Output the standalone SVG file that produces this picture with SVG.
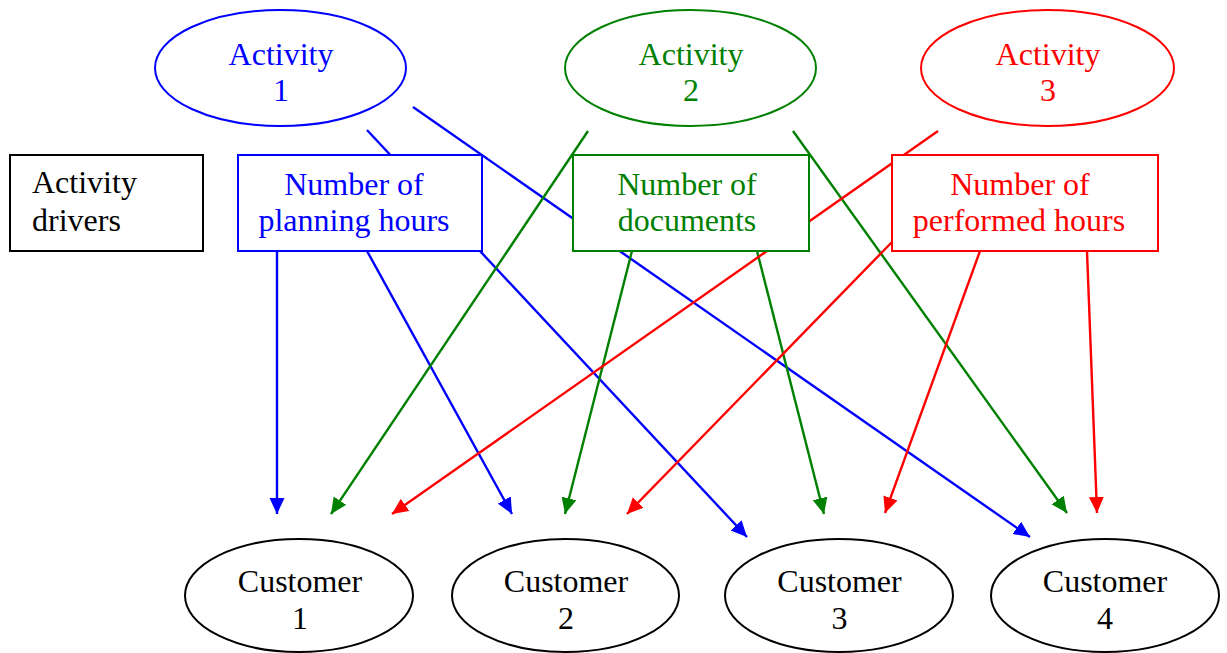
<svg xmlns="http://www.w3.org/2000/svg" width="1227" height="653" viewBox="0 0 1227 653">
  <style>
    text { font-family: "Liberation Serif", "Times New Roman", serif; font-size: 32px; }
    .mid { text-anchor: middle; }
    .b { fill: #0000ff; } .g { fill: #008000; } .r { fill: #ff0000; } .k { fill: #000000; }
    .node { fill: #ffffff; stroke-width: 2; }
    .cb { stroke: #0000ff; } .cg { stroke: #008000; } .cr { stroke: #ff0000; } .ck { stroke: #000000; }
    #connectors line { stroke-width: 2.4; fill: none; }
  </style>
  <defs>
    <marker id="ah-b" markerUnits="userSpaceOnUse" markerWidth="17" markerHeight="16" refX="16" refY="8" orient="auto">
      <path d="M0,0.5 L16,8 L0,15.5 z" fill="#0000ff"/>
    </marker>
    <marker id="ah-g" markerUnits="userSpaceOnUse" markerWidth="17" markerHeight="16" refX="16" refY="8" orient="auto">
      <path d="M0,0.5 L16,8 L0,15.5 z" fill="#008000"/>
    </marker>
    <marker id="ah-r" markerUnits="userSpaceOnUse" markerWidth="17" markerHeight="16" refX="16" refY="8" orient="auto">
      <path d="M0,0.5 L16,8 L0,15.5 z" fill="#ff0000"/>
    </marker>
  </defs>

  <rect width="1227" height="653" fill="#ffffff"/>

  <!-- connectors are drawn first so the white node fills sit on top of them -->
  <g id="connectors">
    <!-- blue: activity 1 / planning hours -->
    <line class="cb" x1="277" y1="251" x2="277" y2="514" marker-end="url(#ah-b)"/>
    <line class="cb" x1="367" y1="251" x2="512" y2="514" marker-end="url(#ah-b)"/>
    <line class="cb" x1="367" y1="130" x2="747" y2="537" marker-end="url(#ah-b)"/>
    <line class="cb" x1="413" y1="107" x2="1030" y2="537" marker-end="url(#ah-b)"/>
    <!-- green: activity 2 / documents -->
    <line class="cg" x1="588" y1="131" x2="331" y2="514" marker-end="url(#ah-g)"/>
    <line class="cg" x1="632" y1="251" x2="565" y2="514" marker-end="url(#ah-g)"/>
    <line class="cg" x1="757" y1="251" x2="824" y2="514" marker-end="url(#ah-g)"/>
    <line class="cg" x1="793" y1="131" x2="1067" y2="513" marker-end="url(#ah-g)"/>
    <!-- red: activity 3 / performed hours -->
    <line class="cr" x1="938" y1="131" x2="392" y2="514" marker-end="url(#ah-r)"/>
    <line class="cr" x1="892" y1="242" x2="627" y2="514" marker-end="url(#ah-r)"/>
    <line class="cr" x1="980" y1="251" x2="885" y2="513" marker-end="url(#ah-r)"/>
    <line class="cr" x1="1087" y1="251" x2="1097" y2="513" marker-end="url(#ah-r)"/>
  </g>

  <!-- activities -->
  <g id="activity1">
    <ellipse class="node cb" cx="280.5" cy="68" rx="125.5" ry="58"/>
    <text class="mid b" x="281" y="65">Activity</text>
    <text class="mid b" x="281" y="101">1</text>
  </g>
  <g id="activity2">
    <ellipse class="node cg" cx="690.5" cy="68" rx="125.5" ry="58"/>
    <text class="mid g" x="691" y="65">Activity</text>
    <text class="mid g" x="691" y="101">2</text>
  </g>
  <g id="activity3">
    <ellipse class="node cr" cx="1047.5" cy="68" rx="126.5" ry="58"/>
    <text class="mid r" x="1048" y="65">Activity</text>
    <text class="mid r" x="1048" y="101">3</text>
  </g>

  <!-- activity drivers -->
  <g id="drivers-label">
    <rect class="node ck" x="10" y="155" width="193" height="96"/>
    <text class="k" x="32" y="193">Activity</text>
    <text class="k" x="32" y="231">drivers</text>
  </g>
  <g id="driver-planning-hours">
    <rect class="node cb" x="238" y="155" width="244" height="96"/>
    <text class="mid b" x="354" y="195">Number of</text>
    <text class="mid b" x="354" y="231">planning hours</text>
  </g>
  <g id="driver-documents">
    <rect class="node cg" x="573" y="155" width="236" height="96"/>
    <text class="mid g" x="687" y="195">Number of</text>
    <text class="mid g" x="687" y="231">documents</text>
  </g>
  <g id="driver-performed-hours">
    <rect class="node cr" x="892" y="155" width="266" height="96"/>
    <text class="mid r" x="1020" y="195">Number of</text>
    <text class="mid r" x="1019" y="231">performed hours</text>
  </g>

  <!-- customers -->
  <g id="customer1">
    <ellipse class="node ck" cx="299" cy="595.5" rx="114" ry="56.5"/>
    <text class="mid k" x="300" y="592">Customer</text>
    <text class="mid k" x="300" y="629">1</text>
  </g>
  <g id="customer2">
    <ellipse class="node ck" cx="565.5" cy="595.5" rx="113.5" ry="56.5"/>
    <text class="mid k" x="566" y="592">Customer</text>
    <text class="mid k" x="566" y="629">2</text>
  </g>
  <g id="customer3">
    <ellipse class="node ck" cx="839" cy="595.5" rx="114" ry="56.5"/>
    <text class="mid k" x="839.5" y="592">Customer</text>
    <text class="mid k" x="839.5" y="629">3</text>
  </g>
  <g id="customer4">
    <ellipse class="node ck" cx="1105" cy="595.5" rx="114" ry="56.5"/>
    <text class="mid k" x="1105" y="592">Customer</text>
    <text class="mid k" x="1105" y="629">4</text>
  </g>
</svg>
